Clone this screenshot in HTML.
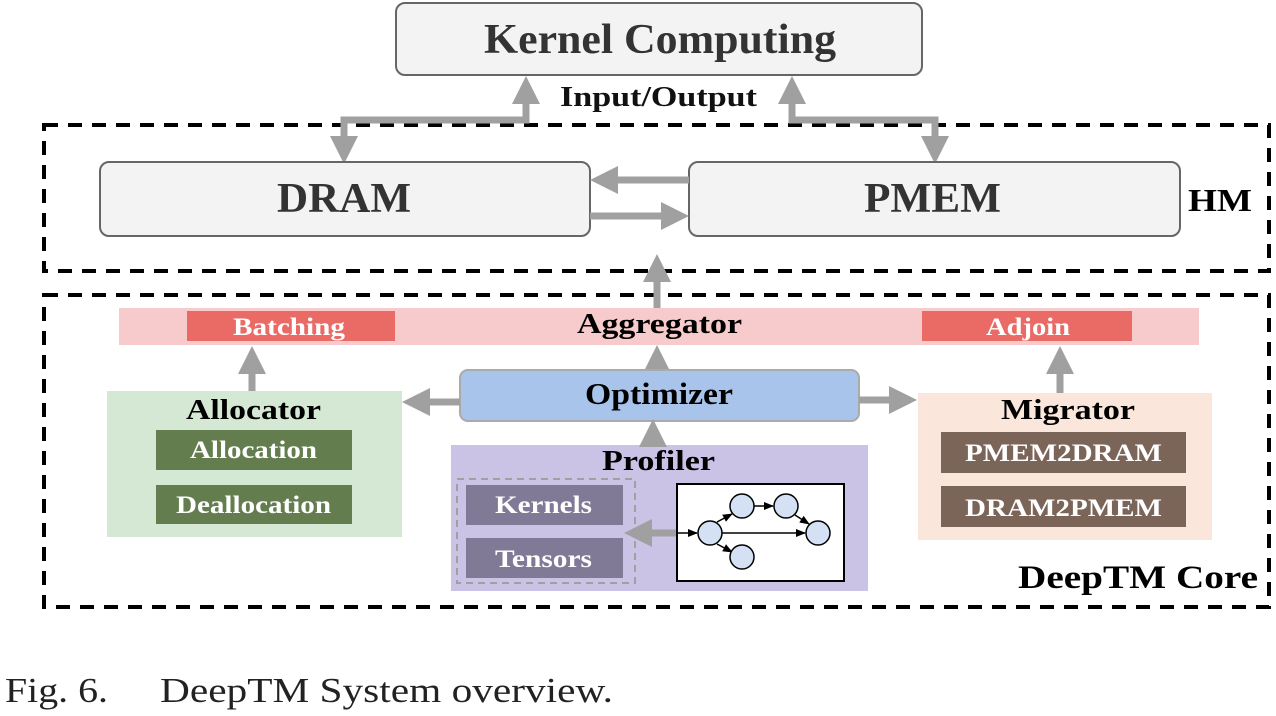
<!DOCTYPE html>
<html><head><meta charset="utf-8"><style>
html,body{margin:0;padding:0;background:#fff;width:1276px;height:716px;overflow:hidden}
svg text{font-family:"Liberation Serif",serif;font-weight:bold}
</style></head><body>
<svg width="1276" height="716" viewBox="0 0 1276 716" xmlns="http://www.w3.org/2000/svg">
<defs>
<marker id="ah" markerWidth="4" markerHeight="4" refX="2" refY="2" orient="auto-start-reverse" markerUnits="strokeWidth">
<path d="M0,0 L4,2 L0,4 Z" fill="#a0a0a0"/></marker>
<marker id="bk" markerWidth="10" markerHeight="10" refX="9" refY="5" orient="auto" markerUnits="userSpaceOnUse">
<path d="M0,1 L10,5 L0,9 Z" fill="#000"/></marker>
</defs>
<rect x="44" y="125" width="1225" height="146" fill="none" stroke="#000" stroke-width="4" stroke-dasharray="14,10"/>
<rect x="44" y="295" width="1225" height="312" fill="none" stroke="#000" stroke-width="4" stroke-dasharray="14,10"/>
<rect x="396" y="3" width="526" height="72" rx="9" fill="#f3f3f3" stroke="#666" stroke-width="2"/>
<text x="484" y="53" font-size="42" textLength="352" lengthAdjust="spacingAndGlyphs" fill="#333">Kernel Computing</text>
<text x="560" y="106" font-size="28" textLength="197" lengthAdjust="spacingAndGlyphs" fill="#111">Input/Output</text>
<polyline points="344,150 344,120 526,120 526,90" fill="none" stroke="#a0a0a0" stroke-width="7" marker-start="url(#ah)" marker-end="url(#ah)"/>
<polyline points="792,90 792,120 935,120 935,150" fill="none" stroke="#a0a0a0" stroke-width="7" marker-start="url(#ah)" marker-end="url(#ah)"/>
<rect x="100" y="162" width="490" height="74" rx="9" fill="#f3f3f3" stroke="#666" stroke-width="2"/>
<text x="277" y="212" font-size="42" textLength="134" lengthAdjust="spacingAndGlyphs" fill="#333">DRAM</text>
<rect x="689" y="162" width="491" height="74" rx="9" fill="#f3f3f3" stroke="#666" stroke-width="2"/>
<text x="864" y="212" font-size="42" textLength="137" lengthAdjust="spacingAndGlyphs" fill="#333">PMEM</text>
<line x1="689" y1="180" x2="604" y2="180" stroke="#a0a0a0" stroke-width="7" marker-end="url(#ah)"/>
<line x1="590" y1="216" x2="675" y2="216" stroke="#a0a0a0" stroke-width="7" marker-end="url(#ah)"/>
<text x="1188" y="211" font-size="32" textLength="64" lengthAdjust="spacingAndGlyphs" fill="#000">HM</text>
<line x1="657" y1="308" x2="657" y2="268" stroke="#a0a0a0" stroke-width="7" marker-end="url(#ah)"/>
<rect x="119" y="308" width="1080" height="37" fill="#f7cbcb"/>
<rect x="187" y="311" width="208" height="30" fill="#ea6b66"/>
<text x="233" y="335" font-size="25" textLength="112" lengthAdjust="spacingAndGlyphs" fill="#fff">Batching</text>
<rect x="922" y="311" width="210" height="30" fill="#ea6b66"/>
<text x="986" y="335" font-size="25" textLength="84" lengthAdjust="spacingAndGlyphs" fill="#fff">Adjoin</text>
<text x="577" y="333" font-size="29" textLength="165" lengthAdjust="spacingAndGlyphs" fill="#000">Aggregator</text>
<line x1="657" y1="370" x2="657" y2="359" stroke="#a0a0a0" stroke-width="7" marker-end="url(#ah)"/>
<line x1="252" y1="391" x2="252" y2="360" stroke="#a0a0a0" stroke-width="7" marker-end="url(#ah)"/>
<line x1="1060" y1="393" x2="1060" y2="360" stroke="#a0a0a0" stroke-width="7" marker-end="url(#ah)"/>
<rect x="460" y="370" width="399" height="51" rx="8" fill="#a9c4eb" stroke="#aaa" stroke-width="2"/>
<text x="585" y="404" font-size="31" textLength="148" lengthAdjust="spacingAndGlyphs" fill="#000">Optimizer</text>
<line x1="460" y1="402" x2="416" y2="402" stroke="#a0a0a0" stroke-width="7" marker-end="url(#ah)"/>
<line x1="859" y1="400" x2="903" y2="400" stroke="#a0a0a0" stroke-width="7" marker-end="url(#ah)"/>
<rect x="107" y="391" width="295" height="146" fill="#d5e8d4"/>
<text x="186" y="419" font-size="29" textLength="135" lengthAdjust="spacingAndGlyphs" fill="#000">Allocator</text>
<rect x="156" y="430" width="196" height="40" fill="#647d4f"/>
<text x="190" y="458" font-size="25" textLength="127" lengthAdjust="spacingAndGlyphs" fill="#fff">Allocation</text>
<rect x="156" y="485" width="196" height="39" fill="#647d4f"/>
<text x="176" y="513" font-size="25" textLength="155" lengthAdjust="spacingAndGlyphs" fill="#fff">Deallocation</text>
<rect x="918" y="393" width="294" height="147" fill="#fae6da"/>
<text x="1001" y="419" font-size="29" textLength="134" lengthAdjust="spacingAndGlyphs" fill="#000">Migrator</text>
<rect x="941" y="432" width="245" height="41" fill="#7b6458"/>
<text x="965" y="461" font-size="25" textLength="197" lengthAdjust="spacingAndGlyphs" fill="#fff">PMEM2DRAM</text>
<rect x="941" y="486" width="245" height="41" fill="#7b6458"/>
<text x="965" y="516" font-size="25" textLength="197" lengthAdjust="spacingAndGlyphs" fill="#fff">DRAM2PMEM</text>
<rect x="451" y="445" width="417" height="146" fill="#cbc3e6"/>
<line x1="653" y1="447" x2="653" y2="433" stroke="#a0a0a0" stroke-width="7" marker-end="url(#ah)"/>
<text x="602" y="470" font-size="29" textLength="113" lengthAdjust="spacingAndGlyphs" fill="#000">Profiler</text>
<rect x="457" y="479" width="178" height="104" fill="none" stroke="#a0a0a0" stroke-width="2" stroke-dasharray="7,5"/>
<rect x="466" y="485" width="157" height="40" fill="#807a96"/>
<text x="495" y="513" font-size="25" textLength="97" lengthAdjust="spacingAndGlyphs" fill="#fff">Kernels</text>
<rect x="466" y="538" width="157" height="40" fill="#807a96"/>
<text x="495" y="567" font-size="25" textLength="97" lengthAdjust="spacingAndGlyphs" fill="#fff">Tensors</text>
<line x1="676" y1="533" x2="638" y2="533" stroke="#a0a0a0" stroke-width="7" marker-end="url(#ah)"/>
<rect x="677" y="484" width="167" height="97" fill="#fff" stroke="#000" stroke-width="2"/>
<g stroke="#000" stroke-width="1.5">
<line x1="677" y1="533" x2="697" y2="533" marker-end="url(#bk)"/>
<line x1="717" y1="522" x2="732" y2="514" marker-end="url(#bk)"/>
<line x1="754" y1="506" x2="773" y2="506" marker-end="url(#bk)"/>
<line x1="795" y1="515" x2="809" y2="524" marker-end="url(#bk)"/>
<line x1="722" y1="533" x2="805" y2="533" marker-end="url(#bk)"/>
<line x1="717" y1="544" x2="732" y2="552" marker-end="url(#bk)"/>
</g>
<g fill="#d4e1f5" stroke="#000" stroke-width="1.5">
<circle cx="710" cy="533" r="12"/><circle cx="742" cy="506" r="12"/>
<circle cx="786" cy="506" r="12"/><circle cx="818" cy="533" r="12"/>
<circle cx="742" cy="557" r="12"/>
</g>
<text x="1018" y="588" font-size="33" textLength="240" lengthAdjust="spacingAndGlyphs" fill="#000">DeepTM Core</text>
<text x="5" y="702" font-size="35" textLength="103" lengthAdjust="spacingAndGlyphs" style="font-weight:normal" fill="#222">Fig. 6.</text>
<text x="160" y="702" font-size="35" textLength="453" lengthAdjust="spacingAndGlyphs" style="font-weight:normal" fill="#222">DeepTM System overview.</text>
</svg>
</body></html>
